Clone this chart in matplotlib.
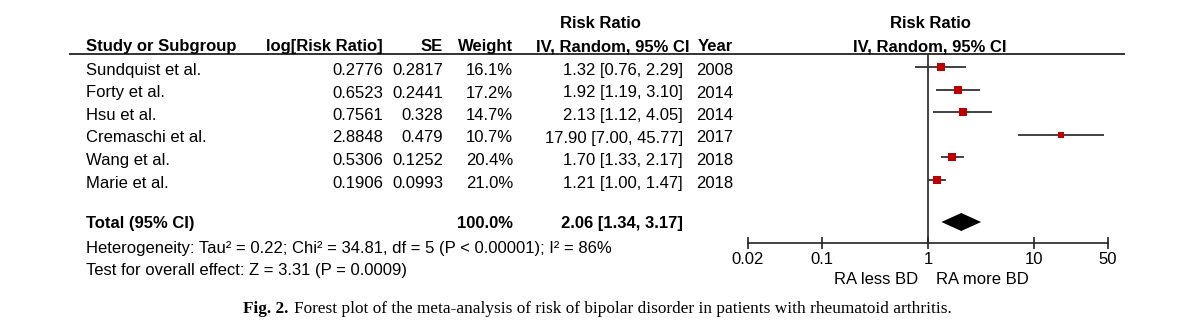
import matplotlib
matplotlib.use("Agg")
import matplotlib.pyplot as plt
import numpy as np

# ---------------- data ----------------
studies = ["Sundquist et al.", "Forty et al.", "Hsu et al.", "Cremaschi et al.", "Wang et al.", "Marie et al."]
log_rr = ["0.2776", "0.6523", "0.7561", "2.8848", "0.5306", "0.1906"]
se = ["0.2817", "0.2441", "0.328", "0.479", "0.1252", "0.0993"]
weights = [16.1, 17.2, 14.7, 10.7, 20.4, 21.0]
rr = [1.32, 1.92, 2.13, 17.90, 1.70, 1.21]
ci_lo = [0.76, 1.19, 1.12, 7.00, 1.33, 1.00]
ci_hi = [2.29, 3.10, 4.05, 45.77, 2.17, 1.47]
years = [2008, 2014, 2014, 2017, 2018, 2018]
total_rr, total_lo, total_hi = 2.06, 1.34, 3.17
total_weight = 100.0
xticks = [0.02, 0.1, 1, 10, 50]
xtick_labels = ["0.02", "0.1", "1", "10", "50"]

W, H = 1200, 333
plt.rcParams['font.family'] = ['Liberation Sans', 'DejaVu Sans']
FS = 12.0
DY = 1.5  # visual centering offset

fig = plt.figure(figsize=(W / 100, H / 100), dpi=100)
fig.patch.set_facecolor("white")


def T(x, y, s, ha="left", bold=False, size=FS, **kw):
    fig.text(x / W, 1 - (y + DY) / H, s, ha=ha, va="center", fontsize=size,
             fontweight="bold" if bold else "normal", **kw)


# headers
T(600, 22, "Risk Ratio", ha="center", bold=True)
T(930, 22, "Risk Ratio", ha="center", bold=True)
T(86, 45, "Study or Subgroup", bold=True)
T(383, 45, "log[Risk Ratio]", ha="right", bold=True)
T(443, 45, "SE", ha="right", bold=True)
T(513, 45, "Weight", ha="right", bold=True)
T(690, 45, "IV, Random, 95% CI", ha="right", bold=True)
T(733, 45, "Year", ha="right", bold=True)
T(930, 45, "IV, Random, 95% CI", ha="center", bold=True)

# header line
fig.add_artist(plt.Line2D([70 / W, 1124 / W], [1 - 54 / H, 1 - 54 / H], color="#333333", lw=1.4))

rows_y = [69, 91.5, 114, 136.5, 159, 181.5]
for i, y in enumerate(rows_y):
    T(86, y, studies[i])
    T(383, y, log_rr[i], ha="right")
    T(443, y, se[i], ha="right")
    T(513, y, f"{weights[i]:.1f}%", ha="right")
    T(683, y, f"{rr[i]:.2f} [{ci_lo[i]:.2f}, {ci_hi[i]:.2f}]", ha="right")
    T(733, y, str(years[i]), ha="right")

T(86, 222, "Total (95% CI)", bold=True)
T(513, 222, f"{total_weight:.1f}%", ha="right", bold=True)
T(683, 222, f"{total_rr:.2f} [{total_lo:.2f}, {total_hi:.2f}]", ha="right", bold=True)
T(86, 247, "Heterogeneity: Tau² = 0.22; Chi² = 34.81, df = 5 (P < 0.00001); I² = 86%")
T(86, 269, "Test for overall effect: Z = 3.31 (P = 0.0009)")

# caption
fig.text(243 / W, 1 - 309 / H, "Fig. 2.", ha="left", va="center", fontsize=12.4,
         fontweight="bold", family="Liberation Serif")
fig.text(294 / W, 1 - 309 / H,
         "Forest plot of the meta-analysis of risk of bipolar disorder in patients with rheumatoid arthritis.",
         ha="left", va="center", fontsize=12.4, family="Liberation Serif")

# forest axes
x0, x1 = 748, 1108
ytop, ybot = 54, 243
ax = fig.add_axes([x0 / W, 1 - ybot / H, (x1 - x0) / W, (ybot - ytop) / H])
ax.set_xscale("log")
ax.set_xlim(xticks[0], xticks[-1])
ax.set_ylim(ybot, ytop)
ax.patch.set_alpha(0)
for s in ["top", "left", "right"]:
    ax.spines[s].set_visible(False)
ax.spines["bottom"].set_color("#222222")
ax.spines["bottom"].set_linewidth(1.2)
ax.set_yticks([])
ax.set_xticks(xticks)
ax.set_xticklabels(xtick_labels, fontsize=FS)
ax.xaxis.set_minor_locator(matplotlib.ticker.NullLocator())
ax.tick_params(axis="x", direction="inout", length=9, width=1.2, color="#222222", pad=2)

ax.plot([1, 1], [55, ybot], color="#222222", lw=1.2, clip_on=False)

for i, y in enumerate(rows_y):
    ax.plot([ci_lo[i], ci_hi[i]], [y - 2, y - 2], color="#333333", lw=1.3, solid_capstyle="butt")
    ax.plot(rr[i], y - 2, marker="s", color="#c00000", markersize=1.38 * np.sqrt(weights[i]),
            markeredgewidth=0, zorder=3)

ax.fill([total_lo, total_rr, total_hi, total_rr], [222, 213, 222, 231], color="black", lw=0)

T(918, 278, "RA less BD", ha="right")
T(936, 278, "RA more BD", ha="left")

fig.savefig("out.png", dpi=100, facecolor="white")
